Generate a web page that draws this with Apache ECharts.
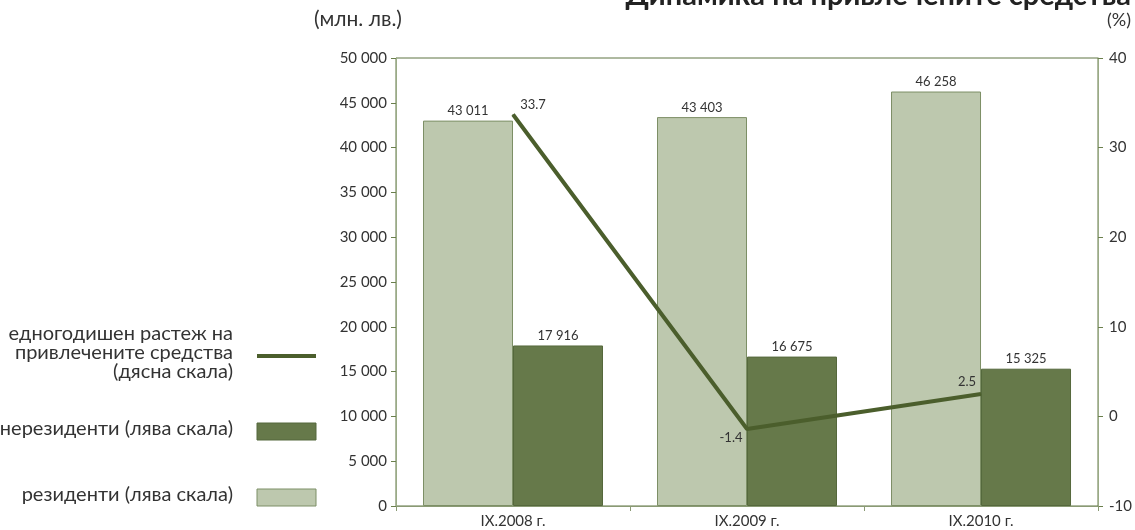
<!DOCTYPE html>
<html>
<head>
<meta charset="utf-8">
<script src="https://cdn.jsdelivr.net/npm/echarts@6/dist/echarts.min.js"></script>
<style>
  html, body { margin: 0; padding: 0; background: #fff; }
  #main { width: 1135px; height: 530px; }
</style>
</head>
<body>
<div id="main"></div>
<script>
var categories = ['IX.2008 г.', 'IX.2009 г.', 'IX.2010 г.'];
var residents = [43011, 43403, 46258];
var nonResidents = [17916, 16675, 15325];
var growth = [33.7, -1.4, 2.5];

var fontFam = 'Lato, "Noto Sans", sans-serif';
var txt = '#333';

function fmtNum(v) {
    return String(v).replace(/\B(?=(\d{3})+(?!\d))/g, ' ');
}

function legendText(str, top) {
    return {
        type: 'text', right: 902, top: top,
        style: { text: str, font: '20px ' + fontFam, fill: txt }
    };
}

var myChart = echarts.init(document.getElementById('main'));

var option = {
    animation: false,
    textStyle: { fontFamily: fontFam },
    grid: {
        left: 396, right: 35, top: 58, bottom: 24,
        show: true, borderColor: '#5f7442', borderWidth: 1
    },
    graphic: [
        {
            type: 'text', right: 4, top: -19,
            style: { text: 'Динамика на привлечените средства', font: 'bold 29px ' + fontFam, fill: '#222' }
        },
        {
            type: 'text', left: 314, top: 9,
            style: { text: '(млн. лв.)', font: '21px ' + fontFam, fill: txt }
        },
        {
            type: 'text', right: 4, top: 11,
            style: { text: '(%)', font: '18px ' + fontFam, fill: txt }
        },
        legendText('едногодишен растеж на', 324),
        legendText('привлечените средства', 343),
        legendText('(дясна скала)', 362),
        {
            type: 'line', shape: { x1: 257, y1: 356, x2: 316, y2: 356 },
            style: { stroke: '#4b5e2c', lineWidth: 4 }
        },
        legendText('нерезиденти (лява скала)', 419),
        {
            type: 'rect', shape: { x: 257, y: 423, width: 59, height: 17 },
            style: { fill: '#66794a', stroke: '#55683c', lineWidth: 1 }
        },
        legendText('резиденти (лява скала)', 485),
        {
            type: 'rect', shape: { x: 257, y: 489, width: 59, height: 17 },
            style: { fill: '#bdc8ae', stroke: '#7d8f66', lineWidth: 1 }
        }
    ],
    xAxis: {
        type: 'category',
        data: categories,
        axisLine: { lineStyle: { color: '#8a9a74' } },
        axisTick: { show: true, alignWithLabel: false, length: 5, lineStyle: { color: '#8a9a74' } },
        axisLabel: { color: txt, fontSize: 15, margin: 8 }
    },
    yAxis: [
        {
            type: 'value', min: 0, max: 50000, interval: 5000,
            axisLine: { show: true, lineStyle: { color: '#9aab86' } },
            axisTick: { show: true, length: 5, lineStyle: { color: '#6a7f4c' } },
            axisLabel: { color: txt, fontSize: 15, margin: 9, formatter: fmtNum },
            splitLine: { show: false }
        },
        {
            type: 'value', min: -10, max: 40, interval: 10,
            position: 'right',
            axisLine: { show: true, lineStyle: { color: '#9aab86' } },
            axisTick: { show: true, length: 5, lineStyle: { color: '#6a7f4c' } },
            axisLabel: { color: txt, fontSize: 15, margin: 11 },
            splitLine: { show: false }
        }
    ],
    series: [
        {
            name: 'резиденти (лява скала)',
            type: 'bar',
            data: residents,
            barWidth: 90,
            barGap: '0%',
            itemStyle: { color: '#bdc8ae', borderColor: '#7d8f66', borderWidth: 1 },
            label: { show: true, position: 'top', color: txt, fontSize: 13, distance: 3, formatter: function (p) { return fmtNum(p.value); } }
        },
        {
            name: 'нерезиденти (лява скала)',
            type: 'bar',
            data: nonResidents,
            barWidth: 90,
            itemStyle: { color: '#66794a', borderColor: '#55683c', borderWidth: 1 },
            label: { show: true, position: 'top', color: txt, fontSize: 13, distance: 3, formatter: function (p) { return fmtNum(p.value); } }
        },
        {
            name: 'едногодишен растеж',
            type: 'line',
            yAxisIndex: 1,
            data: growth.map(function (v, i) {
                var offs = [[20, 2], [-16, 21], [-14, 0]];
                return { value: v, label: { offset: offs[i] } };
            }),
            symbol: 'circle',
            symbolSize: 1,
            showSymbol: true,
            itemStyle: { color: '#4b5e2c' },
            lineStyle: { color: '#4b5e2c', width: 4 },
            label: { show: true, position: 'top', color: txt, fontSize: 13 },
            z: 5
        }
    ]
};

myChart.setOption(option);
</script>
</body>
</html>
